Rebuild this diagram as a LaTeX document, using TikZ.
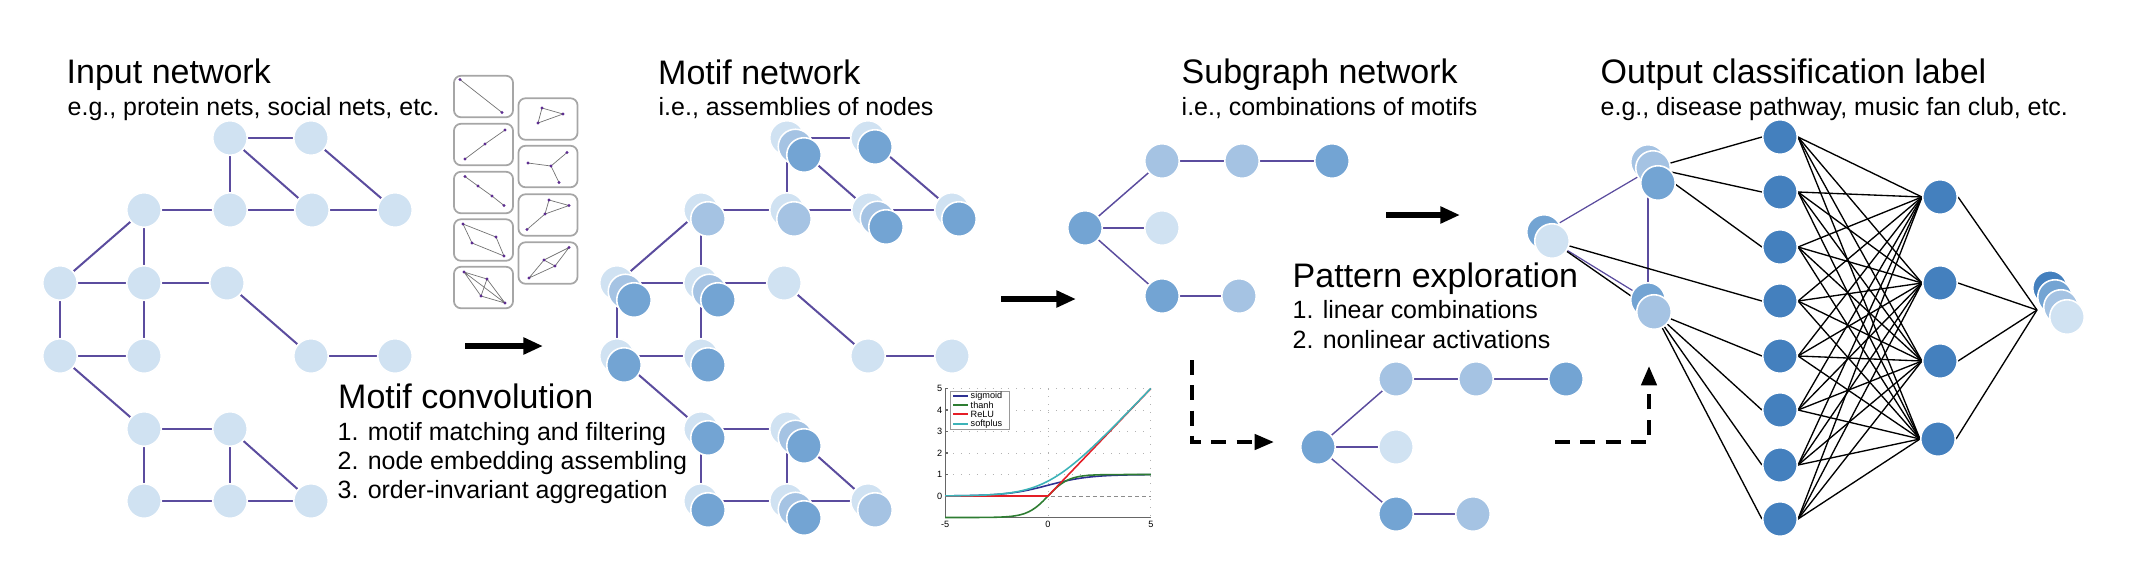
\documentclass[tikz,border=0pt]{standalone}
\usepackage{fontspec}
\setmainfont{Liberation Sans}
\usetikzlibrary{arrows.meta}
\definecolor{cA}{HTML}{D0E2F2}
\definecolor{cB}{HTML}{A5C3E3}
\definecolor{cC}{HTML}{73A4D3}
\definecolor{cD}{HTML}{4480BE}
\definecolor{ep}{HTML}{5B4C9E}
\definecolor{dotc}{HTML}{5E2D91}
\definecolor{sigc}{HTML}{2E3192}
\definecolor{tanc}{HTML}{2E7D32}
\definecolor{reluc}{HTML}{E41E26}
\definecolor{softc}{HTML}{3CB3B8}
\pgfdeclarelayer{bg}
\pgfsetlayers{bg,main}
\newcommand\fT{\fontsize{9.67}{11}\selectfont}
\newcommand\fS{\fontsize{7.1}{8.5}\selectfont}
\newcommand\fP{\fontsize{2.6}{3}\selectfont}
\tikzset{
  nd/.style={circle, inner sep=0pt, minimum size=0.345cm, fill=#1, draw=white, line width=0.45pt},
  ge/.style={draw=ep, line width=0.57pt},
  se/.style={draw=ep, line width=0.42pt},
  ne/.style={draw=black, line width=0.38pt},
  txt/.style={anchor=base west, inner sep=0pt},
  mbox/.style={draw=black!35, line width=0.5pt, rounded corners=2pt, minimum width=0.59cm, minimum height=0.415cm, inner sep=0pt},
  mline/.style={draw=black!55, line width=0.2pt},
  bigarrow/.style={line width=1.7pt, -{Triangle[length=5.6pt,width=4.6pt]}},
  dasharrow/.style={line width=1.15pt, dash pattern=on 4.3pt off 2.9pt, -{Triangle[length=5.5pt,width=4.3pt]}},
}
\newcommand\stkB[4]{%
  \node[nd=cA] (#1) at (#2,#3) {};
  \node[nd=#4] (#1t) at ({#2+7},{#3+9}) {};}
\newcommand\stkC[3]{%
  \node[nd=cA] (#1) at (#2,#3) {};
  \node[nd=cB] (#1m) at ({#2+8.5},{#3+8.5}) {};
  \node[nd=cC] (#1t) at ({#2+17},{#3+17}) {};}
\begin{document}
\begin{tikzpicture}[x=0.01cm, y=-0.01cm]
\useasboundingbox (0,0) rectangle (2144,584);

% ---------- texts ----------
\node[txt] (tIn) at (66,83) {\fT Input network};
\node[txt] (sIn) at (67,115) {\fS e.g., protein nets, social nets, etc.};
\node[txt] (tMo) at (657.5,84) {\fT Motif network};
\node[txt] (sMo) at (658,115) {\fS i.e., assemblies of nodes};
\node[txt] (tSu) at (1181,83) {\fT Subgraph network};
\node[txt] (sSu) at (1181,115) {\fS i.e., combinations of motifs};
\node[txt] (tOu) at (1600,83) {\fT Output classification label};
\node[txt] (sOu) at (1600,115) {\fS e.g., disease pathway, music fan club, etc.};
\node[txt] (tMc) at (337.5,408) {\fT Motif convolution};
\node[txt] (mc1) at (337,440) {\fS 1. motif matching and filtering};
\node[txt] (mc2) at (337,469) {\fS 2. node embedding assembling};
\node[txt] (mc3) at (337,498) {\fS 3. order-invariant aggregation};
\node[txt] (tPe) at (1292,287) {\fT Pattern exploration};
\node[txt] (pe1) at (1292,318) {\fS 1. linear combinations};
\node[txt] (pe2) at (1292,348) {\fS 2. nonlinear activations};

% ---------- input network ----------
\foreach \n/\x/\y in {A1/230/138, A2/311/138, B1/144/210, B2/230/210, B3/312/210, B4/395/210,
  C1/60/283, C2/144/283, C3/227/283, D1/60/356, D2/144/356, D3/311/356, D4/395/356,
  E1/144/429, E2/230/429, F1/144/501, F2/230/501, F3/311/501}
  \node[nd=cA] (i\n) at (\x,\y) {};

% ---------- motif network ----------
\stkC{mA1}{787}{138}
\stkB{mA2}{868}{138}{cC}
\stkB{mB1}{701}{210}{cB}
\stkB{mB2}{787}{210}{cB}
\stkC{mB3}{869}{210}
\stkB{mB4}{952}{210}{cC}
\stkC{mC1}{617}{283}
\stkC{mC2}{701}{283}
\node[nd=cA] (mC3) at (784,283) {};
\stkB{mD1}{617}{356}{cC}
\stkB{mD2}{701}{356}{cC}
\node[nd=cA] (mD3) at (868,356) {};
\node[nd=cA] (mD4) at (952,356) {};
\stkB{mE1}{701}{429}{cC}
\stkC{mE2}{787}{429}
\stkB{mF1}{701}{501}{cC}
\stkC{mF2}{787}{501}
\stkB{mF3}{868}{501}{cB}

\begin{pgfonlayer}{bg}
\foreach \a/\b in {A1/A2, A1/B2, A1/B3, A2/B4, B1/B2, B2/B3, B3/B4, B1/C1, B1/C2, C1/C2, C2/C3,
  C1/D1, C2/D2, D1/D2, C3/D3, D3/D4, D1/E1, E1/E2, E1/F1, E2/F2, E2/F3, F1/F2, F2/F3}
{ \draw[ge] (i\a) -- (i\b); \draw[ge] (m\a) -- (m\b); }
\end{pgfonlayer}

% ---------- motif thumbnails ----------
\foreach \n/\x/\y in {bL1/483.5/96.5, bL2/483.5/144.5, bL3/483.5/192.5, bL4/483.5/240, bL5/483.5/287.5,
  bR1/548/119, bR2/548/166.5, bR3/548/215, bR4/548/263}
  \node[mbox] (\n) at (\x,\y) {};
\foreach \n/\x/\y in {a1/460/79.5, a2/502/112.5,
  b1/505/130, b2/485/144, b3/465/159,
  c1/465/176.5, c2/478/186, c3/492/196, c4/504/205.5,
  d1/463/224, d2/496/237, d3/504/256, d4/472/243,
  e1/464/272, e2/487/279, e3/481/296, e4/505/303,
  f1/542/108, f2/563/114, f3/538/123,
  g0/551/166, g1/528/163, g2/567/152.5, g3/559/182.5,
  h1/549/200, h2/569/205.5, h3/545/214, h4/527/229.5,
  k1/529/278, k2/544/260, k3/555/266, k4/569/247.5}
  \coordinate (\n) at (\x,\y);
\draw[mline] (a1) -- (a2);
\draw[mline] (b1) -- (b2) -- (b3);
\draw[mline] (c1) -- (c2) -- (c3) -- (c4);
\draw[mline] (d1) -- (d2) -- (d3) -- (d4) -- cycle;
\draw[mline] (e1) -- (e2) -- (e4) -- (e3) -- cycle (e1) -- (e4) (e2) -- (e3);
\draw[mline] (f1) -- (f2) -- (f3) -- cycle;
\draw[mline] (g0) -- (g1) (g0) -- (g2) (g0) -- (g3);
\draw[mline] (h1) -- (h2) -- (h3) -- cycle (h3) -- (h4);
\draw[mline] (k1) -- (k2) -- (k3) -- cycle (k2) -- (k4) -- (k3);
\foreach \n in {a1,a2,b1,b2,b3,c1,c2,c3,c4,d1,d2,d3,d4,e1,e2,e3,e4,f1,f2,f3,g0,g1,g2,g3,h1,h2,h3,h4,k1,k2,k3,k4}
  \fill[dotc] (\n) circle (0.45pt);

% ---------- arrows ----------
\coordinate (a1s) at (465,346); \coordinate (a1e) at (543,346);
\coordinate (a2s) at (1001,299); \coordinate (a2e) at (1076,299);
\coordinate (a3s) at (1386,215); \coordinate (a3e) at (1460,215);
\draw[bigarrow] (a1s) -- (a1e);
\draw[bigarrow] (a2s) -- (a2e);
\draw[bigarrow] (a3s) -- (a3e);
\coordinate (d1s) at (1192,360); \coordinate (d1e) at (1274,442);
\coordinate (d2s) at (1555,442); \coordinate (d2e) at (1649,366);
\draw[dasharrow] (d1s) |- (d1e);
\draw[dasharrow] (d2s) -| (d2e);

% ---------- subgraph network ----------
\node[nd=cC] (S0) at (1085,228) {};
\node[nd=cB] (S1) at (1162,161) {};
\node[nd=cB] (S2) at (1242,161) {};
\node[nd=cC] (S3) at (1332,161) {};
\node[nd=cA] (S4) at (1162,228) {};
\node[nd=cC] (S5) at (1162,296) {};
\node[nd=cB] (S6) at (1239,296) {};
\node[nd=cC] (P0) at (1318,447) {};
\node[nd=cB] (P1) at (1396,379) {};
\node[nd=cB] (P2) at (1476,379) {};
\node[nd=cC] (P3) at (1566,379) {};
\node[nd=cA] (P4) at (1396,447) {};
\node[nd=cC] (P5) at (1396,514) {};
\node[nd=cB] (P6) at (1473,514) {};
\begin{pgfonlayer}{bg}
\foreach \a/\b in {0/1, 1/2, 2/3, 0/4, 0/5, 5/6}
{ \draw[se] (S\a) -- (S\b); \draw[se] (P\a) -- (P\b); }
\end{pgfonlayer}

% ---------- output part ----------
\node[nd=cC] (O0b) at (1544,232) {};
\node[nd=cA] (O0f) at (1552,241) {};
\node[nd=cB] (OTb) at (1648,162) {};
\node[nd=cB] (OTm) at (1653,168) {};
\node[nd=cC] (OTf) at (1658,183) {};
\node[nd=cC] (OBb) at (1648,300) {};
\node[nd=cB] (OBf) at (1654,312) {};
\foreach \i/\y in {1/137,2/192,3/247,4/301,5/356,6/410,7/465,8/519}
  \node[nd=cD] (N\i) at (1780,\y) {};
\foreach \i/\x/\y in {1/1940/197,2/1940/283,3/1940/361,4/1938/439}
  \node[nd=cD] (M\i) at (\x,\y) {};
\coordinate (conv) at (2037,310);
\node[nd=cD] (Y1) at (2050,288) {};
\node[nd=cC] (Y2) at (2055,297) {};
\node[nd=cB] (Y3) at (2061,307) {};
\node[nd=cA] (Y4) at (2067,317) {};
\begin{pgfonlayer}{bg}
\draw[se, line width=0.35pt] (O0b) -- (OTm);
\draw[se, line width=0.35pt] (O0f) -- (OBb);
\draw[se, line width=0.35pt] (OTb) -- (OBb);
\draw[ne] (O0f) -- (OBf);
\draw[ne] (O0f) -- (N4.west);
\foreach \i in {1,2,3} \draw[ne] (OTm) -- (N\i.west);
\foreach \i in {5,6,7,8} \draw[ne] (OBf) -- (N\i.west);
\foreach \i in {1,...,8} \foreach \j in {1,...,4} \draw[ne] (N\i.east) -- (M\j.west);
\foreach \j in {1,...,4} \draw[ne] (M\j.east) -- (conv);
\end{pgfonlayer}

% ---------- activation plot ----------
\foreach \v in {1,...,5}
  \draw[black!30, line width=0.25pt, dotted] (945.15,{496-21.5*\v}) -- (1150.85,{496-21.5*\v});
\foreach \u in {0,5}
  \draw[black!30, line width=0.25pt, dotted] ({1048+20.57*\u},388.5) -- ({1048+20.57*\u},517.5);
\draw[black!45, line width=0.25pt, dash pattern=on 1.2pt off 0.8pt] (945.15,496) -- (1150.85,496);
\draw[black!60, line width=0.3pt] (945.15,388.5) -- (945.15,517.5) -- (1150.85,517.5);
\foreach \v in {0,...,5} {
  \draw[black!60, line width=0.3pt] (945.15,{496-21.5*\v}) -- (947.5,{496-21.5*\v});
  \node[anchor=east, inner sep=0pt] (yl\v) at (943,{496-21.5*\v}) {\fP \v};
}
\foreach \u in {-5,0,5}
  \node[anchor=north, inner sep=0pt] (xl\u) at ({1048+20.57*\u},520) {\fP \u};
\draw[sigc, line width=0.45pt] plot[domain=-5:5, samples=60] ({1048+20.57*\x},{496-21.5/(1+exp(-\x))});
\draw[tanc, line width=0.45pt] plot[domain=-5:5, samples=60] ({1048+20.57*\x},{496-21.5*tanh(\x)});
\draw[reluc, line width=0.45pt] (945.15,496) -- (1048,496) -- (1150.85,388.5);
\draw[softc, line width=0.45pt] plot[domain=-5:5, samples=60] ({1048+20.57*\x},{496-21.5*ln(1+exp(\x))});
\node[draw=black!40, fill=white, line width=0.25pt, minimum width=0.59cm, minimum height=0.385cm, inner sep=0pt] (leg) at (979.5,410.2) {};
\foreach \c/\lbl/\y in {sigc/sigmoid/395.7, tanc/thanh/405.3, reluc/ReLU/414.3, softc/softplus/424.3} {
  \draw[\c, line width=0.5pt] (953,\y) -- (968,\y);
  \node[anchor=west, inner sep=0pt] (lg\lbl) at (970,\y) {\fP \lbl};
}
\end{tikzpicture}
\end{document}
